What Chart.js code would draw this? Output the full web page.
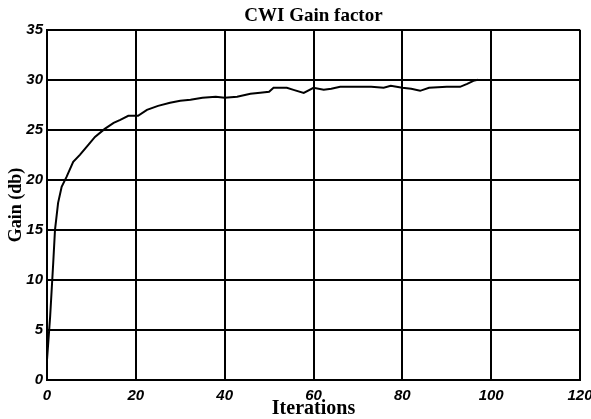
<!DOCTYPE html>
<html>
<head>
<meta charset="utf-8">
<script src="https://cdn.jsdelivr.net/npm/chart.js@4/dist/chart.umd.min.js"></script>
<style>
  html, body { margin: 0; padding: 0; background: #fff; }
  #wrap { width: 591px; height: 419px; }
</style>
</head>
<body>
<div id="wrap"><canvas id="c" width="591" height="419"></canvas></div>
<script>
const chartTitle = "CWI Gain factor";
const xTitle = "Iterations";
const yTitle = "Gain (db)";
const iterations = [0, 0.7, 1.4, 1.8, 2.5, 3.3, 4.4, 5.9, 7.4, 9.3, 10.8, 13, 15, 16.5, 18.3, 20.5, 22.5, 25, 27.7, 30, 32.3, 35, 38, 40, 42.8, 45.8, 48, 50, 51, 54, 55.5, 57.8, 60, 62.3, 64, 66, 70, 73, 75.8, 77.4, 80, 82, 84, 86, 90, 93, 94.6, 96, 97];
const gain = [2, 6.3, 11.7, 15, 17.7, 19.3, 20.3, 21.8, 22.5, 23.5, 24.3, 25.1, 25.7, 26, 26.4, 26.4, 27, 27.4, 27.7, 27.9, 28, 28.2, 28.3, 28.2, 28.3, 28.6, 28.7, 28.8, 29.2, 29.2, 29, 28.7, 29.2, 29, 29.1, 29.3, 29.3, 29.3, 29.2, 29.4, 29.2, 29.1, 28.9, 29.2, 29.3, 29.3, 29.6, 29.9, 30];
const xTicks = [0, 20, 40, 60, 80, 100, 120];
const yTicks = [0, 5, 10, 15, 20, 25, 30, 35];

const points = iterations.map((x, i) => ({ x: x, y: gain[i] }));
const tickFont = { family: "'Liberation Sans', Arial, sans-serif", size: 15, weight: 'bold', style: 'italic' };
const serifBold = (size) => ({ family: "'Liberation Serif', 'Times New Roman', serif", size: size, weight: 'bold', lineHeight: 1 });

new Chart(document.getElementById('c'), {
  type: 'line',
  data: {
    datasets: [{
      data: points,
      borderColor: '#000',
      borderWidth: 2,
      pointRadius: 0,
      tension: 0,
      fill: false
    }]
  },
  options: {
    responsive: false,
    animation: false,
    layout: { padding: { left: 0, right: 11, top: 0, bottom: 0 } },
    plugins: {
      legend: { display: false },
      tooltip: { enabled: false },
      title: {
        display: true,
        text: chartTitle,
        color: '#000',
        fullSize: false,
        font: { family: "'Liberation Serif', 'Times New Roman', serif", size: 19, weight: 'bold', lineHeight: 1.2 },
        padding: { top: 5, bottom: 2 }
      }
    },
    scales: {
      x: {
        type: 'linear',
        min: xTicks[0],
        max: xTicks[xTicks.length - 1],
        afterBuildTicks: (s) => { s.ticks = xTicks.map(v => ({ value: v })); },
        afterFit: (s) => { s.height = 39; s.paddingLeft = 0; s.paddingRight = 0; },
        ticks: { color: '#000', font: tickFont, padding: 7, maxRotation: 0 },
        grid: { color: '#000', lineWidth: 2, drawTicks: false },
        border: { color: '#000', width: 2 },
        title: { display: true, text: xTitle, color: '#000', font: serifBold(20), padding: { top: 0, bottom: 0 } }
      },
      y: {
        type: 'linear',
        min: yTicks[0],
        max: yTicks[yTicks.length - 1],
        afterBuildTicks: (s) => { s.ticks = yTicks.map(v => ({ value: v })); },
        afterFit: (s) => { s.width = 47; },
        ticks: { color: '#000', font: tickFont, padding: 4 },
        grid: { color: '#000', lineWidth: 2, drawTicks: false },
        border: { color: '#000', width: 2 },
        title: { display: true, text: yTitle, color: '#000', font: serifBold(18), padding: { top: 7, bottom: 0 } }
      }
    }
  },
  plugins: [{
    id: 'bg',
    beforeDraw: (chart) => {
      const ctx = chart.ctx;
      ctx.save();
      ctx.fillStyle = '#fff';
      ctx.fillRect(0, 0, chart.width, chart.height);
      ctx.restore();
    }
  }]
});
</script>
</body>
</html>
